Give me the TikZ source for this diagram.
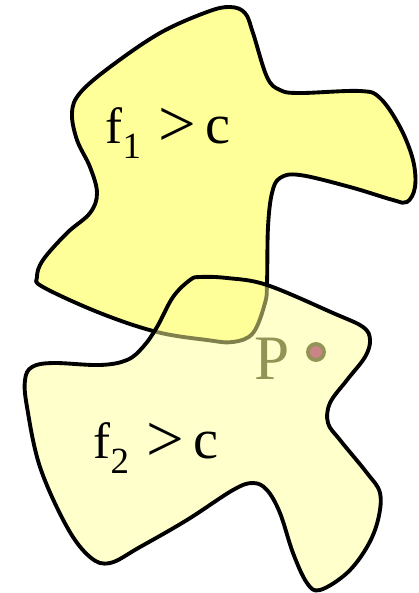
\documentclass[tikz,border=0pt]{standalone}
\usepackage{fontspec}
\setmainfont{Liberation Serif}
\definecolor{lemon}{RGB}{255,255,153}
\definecolor{olivep}{RGB}{40,40,20}
\definecolor{plum}{RGB}{150,10,120}
\newcommand{\lowsub}[1]{\raisebox{-4.5pt}{\fontsize{10.5}{10.5}\selectfont #1}}
\newcommand{\bigger}{\hspace{5pt}\raisebox{-1pt}{\fontsize{19}{19}\selectfont >}\hspace{2.5pt}}
\begin{document}
\begin{tikzpicture}[x=0.01cm,y=-0.01cm,
	blob/.style={line width=1.1pt,draw=black,line join=round},
	lab/.style={font=\fontsize{14.5}{14.5}\selectfont,inner sep=0pt,anchor=base west}]
			\useasboundingbox (0,0) rectangle (419,593);
			% upper region
			\draw[blob,fill=lemon] plot[smooth cycle,tension=0.6] coordinates {(230,7) (245,13) (253,33) (267,77) (280,90) (300,93) (360,91) (380,98) (400,127) (413,160) (415,187) (407,202) (393,200) (350,187) (300,175) (280,178) (272,193) (268,227) (267,283) (265,303) (253,333) (233,342) (207,340) (157,332) (100,313) (43,287) (37,277) (43,260) (67,233) (90,213) (97,193) (90,167) (77,140) (72,113) (80,93) (110,67) (160,33) (207,12)};
			\node[lab] (f1) at (105,143) {f\lowsub{1}\bigger{\fontsize{16}{16}\selectfont c}};
			\node[font=\fontsize{18}{18}\selectfont,text=olivep,inner sep=0pt,anchor=base west] (P) at (254,379) {P};
			\draw[fill=plum,draw=olivep,line width=1.1pt] (316,352) circle (8) coordinate (pt);
			% lower region
			\fill[lemon,fill opacity=0.5] plot[smooth cycle,tension=0.6] coordinates {(200,277) (227,278) (267,285) (333,313) (363,327) (370,340) (365,357) (347,380) (330,403) (328,423) (340,440) (367,473) (380,493) (378,520) (367,547) (347,573) (320,590) (307,583) (293,553) (280,513) (267,490) (253,483) (233,490) (187,520) (140,547) (110,563) (90,557) (67,527) (40,467) (27,407) (25,380) (32,367) (53,363) (100,365) (127,360) (143,347) (157,327) (173,297) (190,280)};
			\draw[blob] plot[smooth cycle,tension=0.6] coordinates {(200,277) (227,278) (267,285) (333,313) (363,327) (370,340) (365,357) (347,380) (330,403) (328,423) (340,440) (367,473) (380,493) (378,520) (367,547) (347,573) (320,590) (307,583) (293,553) (280,513) (267,490) (253,483) (233,490) (187,520) (140,547) (110,563) (90,557) (67,527) (40,467) (27,407) (25,380) (32,367) (53,363) (100,365) (127,360) (143,347) (157,327) (173,297) (190,280)};
			\node[lab] (f2) at (93,458) {f\lowsub{2}\bigger{\fontsize{16}{16}\selectfont c}};
	\end{tikzpicture}
\end{document}
